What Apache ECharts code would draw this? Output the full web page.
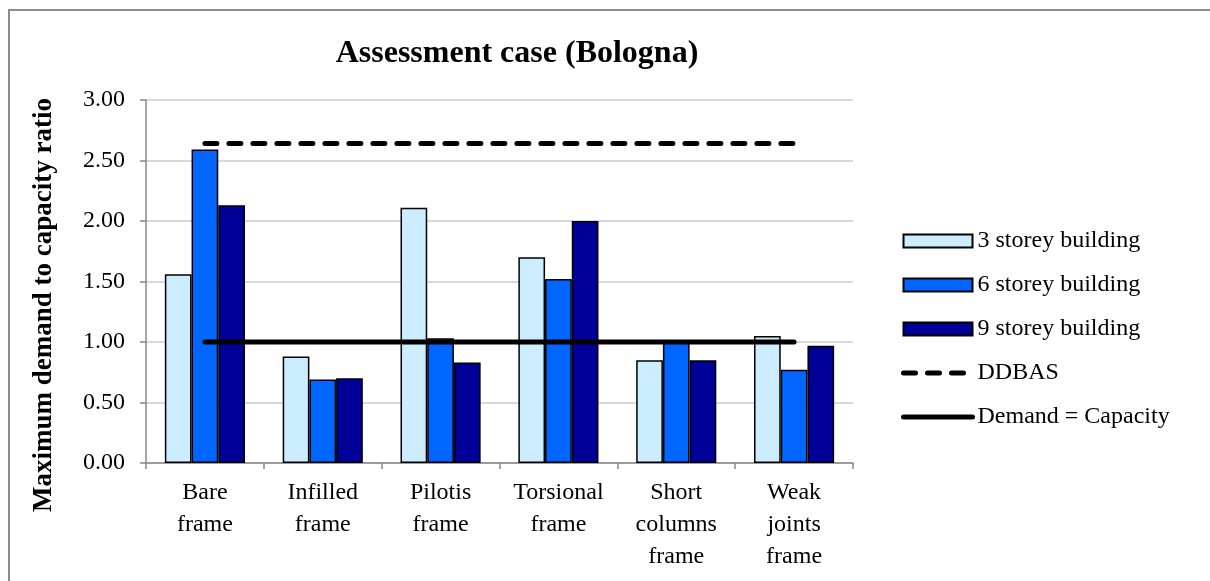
<!DOCTYPE html>
<html>
<head>
<meta charset="utf-8">
<script src="https://cdn.jsdelivr.net/npm/echarts@6/dist/echarts.min.js"></script>
<style>html,body{margin:0;padding:0;background:#fff}#c{width:1210px;height:581px}</style>
</head>
<body>
<div id="c"></div>
<script>
const categories = ['Bare\nframe', 'Infilled\nframe', 'Pilotis\nframe', 'Torsional\nframe', 'Short\ncolumns\nframe', 'Weak\njoints\nframe'];
const storey3 = [1.56, 0.88, 2.11, 1.70, 0.85, 1.05];
const storey6 = [2.59, 0.69, 1.03, 1.52, 1.00, 0.77];
const storey9 = [2.13, 0.70, 0.83, 2.00, 0.85, 0.97];
const ddbas = [2.64, 2.64, 2.64, 2.64, 2.64, 2.64];
const demandCapacity = [1.00, 1.00, 1.00, 1.00, 1.00, 1.00];
const yTicks = [0, 0.5, 1, 1.5, 2, 2.5, 3];
const yAxisTitle = 'Maximum demand to capacity ratio';

const serif = 'Liberation Serif';
const chart = echarts.init(document.getElementById('c'));
const barBorder = {borderColor: '#000', borderWidth: 1.5};
const dashPattern = [12, 12];
chart.setOption({
  animation: false,
  backgroundColor: '#fff',
  graphic: [
    {type: 'rect', shape: {x: 9, y: 10, width: 1220, height: 600}, style: {fill: 'none', stroke: '#8c8c8c', lineWidth: 2}, silent: true},
    {type: 'text', x: 44, y: 305, rotation: Math.PI / 2, silent: true,
     style: {text: yAxisTitle, fontFamily: serif, fontWeight: 'bold', fontSize: 27, fill: '#000', align: 'center', verticalAlign: 'middle'}}
  ],
  title: {
    text: 'Assessment case (Bologna)', left: 512, top: 33, textAlign: 'center',
    textStyle: {fontFamily: serif, fontWeight: 'bold', fontSize: 32, color: '#000'}
  },
  grid: {left: 146, right: 357, top: 100, bottom: 118},
  legend: {
    orient: 'vertical', left: 896, top: 224, itemWidth: 69, itemHeight: 13, itemGap: 20,
    textStyle: {fontFamily: serif, fontSize: 24, color: '#000'},
    data: [
      {name: '3 storey building', icon: 'rect'},
      {name: '6 storey building', icon: 'rect'},
      {name: '9 storey building', icon: 'rect'},
      {name: 'DDBAS', itemStyle: {opacity: 0}, lineStyle: {width: 5, color: '#000', type: dashPattern, cap: 'round'}},
      {name: 'Demand = Capacity', itemStyle: {opacity: 0}, lineStyle: {width: 5, color: '#000', type: 'solid', cap: 'round'}}
    ]
  },
  xAxis: {
    type: 'category', data: categories,
    axisLine: {lineStyle: {color: '#888', width: 1.5}},
    axisTick: {show: true, length: 6, lineStyle: {color: '#888', width: 1.5}},
    axisLabel: {interval: 0, fontFamily: serif, fontSize: 24, color: '#000', lineHeight: 32, margin: 14}
  },
  yAxis: {
    type: 'value', min: yTicks[0], max: yTicks[yTicks.length - 1], interval: 0.5,
    axisLine: {show: true, lineStyle: {color: '#888', width: 1.5}},
    axisTick: {show: true, length: 6, lineStyle: {color: '#888', width: 1.5}},
    axisLabel: {fontFamily: serif, fontSize: 24, color: '#000', margin: 21, formatter: v => v.toFixed(2)},
    splitLine: {lineStyle: {color: '#d9d9d9', width: 2}}
  },
  series: [
    {name: '3 storey building', type: 'bar', data: storey3, barGap: '0%', barCategoryGap: '32%', itemStyle: Object.assign({color: '#CCECFF'}, barBorder)},
    {name: '6 storey building', type: 'bar', data: storey6, barGap: '0%', barCategoryGap: '32%', itemStyle: Object.assign({color: '#0066FF'}, barBorder)},
    {name: '9 storey building', type: 'bar', data: storey9, barGap: '0%', barCategoryGap: '32%', itemStyle: Object.assign({color: '#000099'}, barBorder)},
    {name: 'DDBAS', type: 'line', data: ddbas, symbol: 'none', itemStyle: {color: '#000'},
     lineStyle: {color: '#000', width: 5, type: dashPattern, cap: 'round'}},
    {name: 'Demand = Capacity', type: 'line', data: demandCapacity, symbol: 'none', itemStyle: {color: '#000'},
     lineStyle: {color: '#000', width: 5, cap: 'round'}}
  ]
});
</script>
</body>
</html>
